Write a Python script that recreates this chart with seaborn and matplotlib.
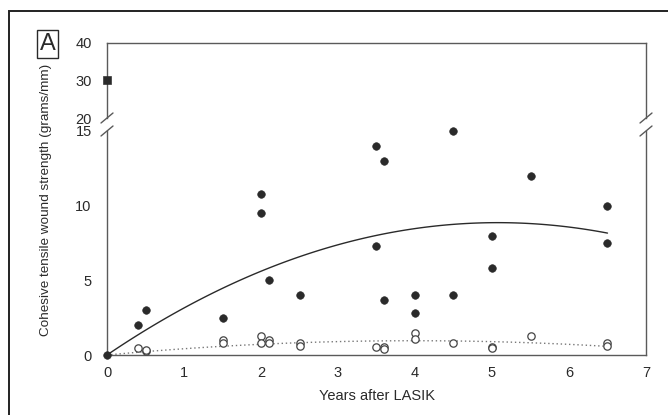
import numpy as np
import pandas as pd
import matplotlib.pyplot as plt
import seaborn as sns
from matplotlib.patches import Rectangle

# filled dots (LASIK, cohesive wound strength)
filled_x = [0, 0.4, 0.5, 1.5, 2.0, 2.0, 2.1, 2.5, 3.5, 3.5, 3.6, 3.6, 4.0, 4.0,
            4.5, 4.5, 5.0, 5.0, 5.5, 6.5, 6.5]
filled_y = [0, 2.0, 3.0, 2.5, 9.5, 10.8, 5.0, 4.0, 14.0, 7.3, 13.0, 3.7, 4.0, 2.8,
            15.0, 4.0, 8.0, 5.8, 12.0, 10.0, 7.5]

# the one high value on the upper (broken) axis
high_x = [0]
high_y = [30]

# open circles
open_x = [0.4, 0.5, 0.5, 1.5, 1.5, 2.0, 2.0, 2.1, 2.1, 2.5, 2.5, 3.5, 3.6, 3.6,
          4.0, 4.0, 4.5, 5.0, 5.0, 5.5, 6.5, 6.5]
open_y = [0.45, 0.3, 0.35, 1.02, 0.78, 1.27, 0.78, 1.0, 0.78, 0.82, 0.6, 0.56, 0.56, 0.42,
          1.5, 1.04, 0.78, 0.56, 0.44, 1.29, 0.82, 0.6]


def quad_fit(x, y):
    # quadratic regression through the origin
    x = np.asarray(x, float)
    y = np.asarray(y, float)
    A = np.column_stack([x, x ** 2])
    coef = np.linalg.lstsq(A, y, rcond=None)[0]
    xs = np.linspace(0, 6.5, 100)
    return pd.DataFrame({'x': xs, 'y': coef[0] * xs + coef[1] * xs ** 2})


solid_fit = quad_fit(filled_x, filled_y)
dotted_fit = quad_fit(open_x, open_y)

sns.set_style('white')
plt.rcParams['font.family'] = ['Liberation Sans', 'DejaVu Sans']

ink = '#2a2a2a'
axis_col = '#5a5a5a'

fig = plt.figure(figsize=(6.68, 4.15), dpi=100)
W, H = 668, 415


def box(left, top, right, bottom):
    return [left / W, (H - bottom) / H, (right - left) / W, (bottom - top) / H]


ax_top = fig.add_axes(box(107, 43, 646, 118))
ax_bot = fig.add_axes(box(107, 131, 646, 355))

# lower part
sns.lineplot(data=solid_fit, x='x', y='y', ax=ax_bot, color=ink, lw=1.0)
sns.lineplot(data=dotted_fit, x='x', y='y', ax=ax_bot, color='#777777', lw=1.0,
             linestyle=(0, (1, 2)))
sns.scatterplot(x=open_x, y=open_y, ax=ax_bot, marker='o', s=28,
                facecolor='white', edgecolor='#444444', linewidth=0.9, zorder=3)
sns.scatterplot(x=filled_x, y=filled_y, ax=ax_bot, marker='o', s=30,
                color=ink, edgecolor=ink, zorder=4, clip_on=False)

# upper part
sns.scatterplot(x=high_x, y=high_y, ax=ax_top, marker='s', s=30,
                color=ink, edgecolor=ink, zorder=4, clip_on=False)

for ax in (ax_top, ax_bot):
    ax.set_xlim(0, 7)
    for s in ax.spines.values():
        s.set_color(axis_col)
        s.set_linewidth(1.0)
    ax.set_xlabel('')
    ax.set_ylabel('')

ax_top.set_ylim(20, 40)
ax_top.set_yticks([20, 30, 40])
ax_top.set_xticks([])
ax_top.spines['bottom'].set_visible(False)

ax_bot.set_ylim(0, 15)
ax_bot.set_yticks([0, 5, 10, 15])
ax_bot.set_xticks(range(8))
ax_bot.set_xticks(np.arange(0.5, 7, 1.0), minor=True)
ax_bot.spines['top'].set_visible(False)

tick_kw = dict(direction='in', color=axis_col, labelcolor=ink, labelsize=10.5)
ax_top.tick_params(axis='y', length=5, width=1, pad=11, **tick_kw)
ax_bot.tick_params(axis='y', length=5, width=1, pad=11, **tick_kw)
ax_bot.tick_params(axis='x', which='both', length=5, width=1, pad=8, **tick_kw)

# hide marks at the broken ends
for t, v in zip(ax_top.yaxis.get_major_ticks(), [20, 30, 40]):
    if v != 30:
        t.tick1line.set_visible(False)
for t, v in zip(ax_bot.yaxis.get_major_ticks(), [0, 5, 10, 15]):
    if v in (0, 15):
        t.tick1line.set_visible(False)
for t in ax_bot.xaxis.get_major_ticks()[:1] + ax_bot.xaxis.get_major_ticks()[-1:]:
    t.tick1line.set_visible(False)

# axis break marks
for xb in (107, 646):
    for yb in (118, 131):
        x0, x1 = (xb - 6) / W, (xb + 6) / W
        y0, y1 = (H - yb - 5) / H, (H - yb + 5) / H
        fig.add_artist(plt.Line2D([x0, x1], [y0, y1], color=axis_col, lw=1.0))

fig.text(377 / W, 1 - 396 / H, 'Years after LASIK', ha='center', va='center',
         fontsize=10.5, color=ink)
fig.text(46 / W, 1 - 200 / H, 'Cohesive tensile wound strength (grams/mm)',
         rotation=90, ha='center', va='center', fontsize=9.7, color=ink)

fig.text(47.5 / W, 1 - 44 / H, 'A', ha='center', va='center', fontsize=17, color=ink,
         bbox=dict(boxstyle='square,pad=0.12', facecolor='white', edgecolor=ink, lw=1.0))

# outer panel frame (runs off the right and bottom edges)
fig.add_artist(Rectangle((9 / W, -0.1), 1.2, (H - 11) / H + 0.1, transform=fig.transFigure,
                         fill=False, edgecolor='#222222', lw=1.4))

fig.savefig('out.png', dpi=100)
